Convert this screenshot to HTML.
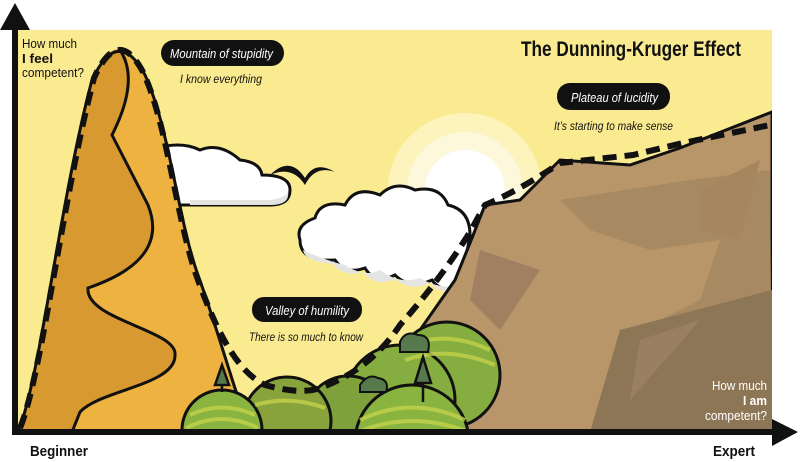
<!DOCTYPE html>
<html><head><meta charset="utf-8"><style>html,body{margin:0;padding:0;background:#fff;overflow:hidden}svg{display:block}</style></head>
<body>
<svg width="800" height="462" viewBox="0 0 800 462" xmlns="http://www.w3.org/2000/svg" font-family="'Liberation Sans Narrow','Liberation Sans',sans-serif">
<defs><clipPath id="c"><rect x="15" y="30" width="757" height="402"/></clipPath></defs>
<rect x="15" y="30" width="757" height="402" fill="#fbeb90"/>
<g clip-path="url(#c)">
<!-- sun -->
<circle cx="465" cy="190" r="77" fill="#fcf3bd"/>
<circle cx="465" cy="190" r="58" fill="#fdf8dc"/>
<circle cx="465" cy="190" r="40" fill="#fff"/>
<!-- bird -->
<path d="M270,175 Q290,155 305,178 Q315,160 335,172 Q315,165 305,185 Q292,165 270,175Z" fill="#111"/>
<!-- cloud1 -->
<path d="M150,150 Q180,140 200,150 Q220,142 240,160 Q260,162 262,175 Q290,175 290,190 Q290,205 270,205 L150,205Z" fill="#fff" stroke="#111" stroke-width="3"/>
<path d="M190,200 L270,200 Q285,198 288,192 Q290,205 270,205 L190,205Z" fill="#e4e5e3"/>
<!-- cloud2 -->
<path d="M300,240 Q295,225 315,218 Q320,200 345,205 Q355,185 380,195 Q395,180 415,190 Q440,185 448,205 Q470,210 470,235 L460,290 Q440,292 432,280 Q410,290 395,275 Q375,285 365,268 Q345,275 335,260 Q300,262 300,240Z" fill="#fff" stroke="#111" stroke-width="3"/>
<path d="M303,250 Q330,262 345,265 Q365,278 380,270 Q400,285 420,278 Q440,290 460,285 L458,292 Q440,294 430,283 Q410,292 395,279 Q375,288 363,272 Q345,278 333,264 Q305,262 303,250Z" fill="#e4e5e3"/>
<!-- brown mountain -->
<path d="M372,432 L420,330 L455,280 L472,238 L485,205 L520,200 L560,160 L630,165 L680,148 L772,112 L772,432Z" fill="#b8966a" stroke="#111" stroke-width="3"/>
<path d="M560,200 L690,180 L770,170 L772,432 L600,432 L640,330 L700,300 L720,240 L650,250 L590,230Z" fill="#a88a62"/>
<path d="M620,330 L772,290 L772,432 L590,432Z" fill="#8d7656"/>
<path d="M480,250 L540,270 L500,330 L470,300Z" fill="#a08060"/>
<path d="M700,190 L760,160 L740,240 L700,230Z" fill="#a5865f"/>
<path d="M640,340 L700,320 L630,400Z" fill="#9a8060"/>
<!-- orange mountain -->
<path d="M18,432 C40,380 60,200 92,80 Q118,25 145,75 C170,130 178,220 198,275 C218,330 234,390 250,432Z" fill="#edb240"/>
<path d="M18,432 C40,380 60,200 92,80 Q108,45 120,50 Q140,80 112,135 Q130,170 148,205 Q170,260 88,288 C85,320 178,330 175,355 C176,385 100,390 80,412 L72,432Z" fill="#d89a30"/>
<path d="M120,50 Q140,80 112,135 Q130,170 148,205 Q170,260 88,288 C85,320 178,330 175,355 C176,385 100,390 80,412 L72,432" fill="none" stroke="#111" stroke-width="3"/>
<path d="M18,432 C40,380 60,200 92,80 Q118,25 145,75 C170,130 178,220 198,275 C218,330 234,390 250,432" fill="none" stroke="#111" stroke-width="3"/>
<!-- trees -->
<g stroke="#111" stroke-width="3">
<circle cx="447" cy="375" r="53" fill="#86ad3f"/>
<circle cx="400" cy="400" r="55" fill="#86ad3f"/>
<circle cx="348" cy="420" r="44" fill="#7fa13b"/>
<circle cx="287" cy="421" r="44" fill="#89a33c"/>
<circle cx="222" cy="430" r="40" fill="#8ab440"/>
<circle cx="412" cy="442" r="57" fill="#8ab440"/>
</g>
<g fill="none" stroke="#c3d24a" stroke-width="4" opacity=".8">
<path d="M190,415 Q222,400 255,415"/><path d="M186,428 Q222,410 258,428"/>
<path d="M360,420 Q412,395 465,420"/><path d="M358,432 Q412,410 468,432"/>
<path d="M410,345 Q447,330 490,350"/><path d="M405,360 Q447,345 495,365"/>
<path d="M255,405 Q290,395 325,408"/>
</g>
<path d="M222,365 L215,385 L229,385Z M222,385 V392" fill="#567a4c" stroke="#111" stroke-width="2.5"/>
<path d="M423,357 L415,383 L431,383Z M423,383 V402" fill="#567a4c" stroke="#111" stroke-width="2.5"/>
<path d="M400,342 Q405,330 418,335 Q432,335 428,352 L400,352Z" fill="#567a4c" stroke="#111" stroke-width="2"/>
<path d="M360,385 Q368,373 378,378 Q390,380 386,392 L360,392Z" fill="#567a4c" stroke="#111" stroke-width="2"/>
<!-- dashed curve -->
<path d="M20,428 C42,375 62,200 94,78 Q118,25 143,72 C168,125 176,220 198,280 C218,335 238,372 265,385 Q300,395 320,388 Q370,370 400,325 Q440,280 470,232 L485,205 Q520,190 560,163 L633,155 L683,143 L775,124" fill="none" stroke="#111" stroke-width="6" stroke-dasharray="14 8"/>
</g>
<!-- axes -->
<rect x="12" y="28" width="6" height="407" fill="#111"/>
<path d="M15,3 L30,30 L0,30Z" fill="#111"/>
<rect x="12" y="429" width="765" height="6" fill="#111"/>
<path d="M798,432 L772,419 L772,446Z" fill="#111"/>
<!-- texts -->
<text x="22" y="48" font-size="13" fill="#111" textLength="55" lengthAdjust="spacingAndGlyphs">How much</text>
<text x="22" y="63" font-size="13" font-weight="bold" fill="#111" textLength="31" lengthAdjust="spacingAndGlyphs">I feel</text>
<text x="22" y="77" font-size="13" fill="#111" textLength="62" lengthAdjust="spacingAndGlyphs">competent?</text>
<text x="767" y="390" font-size="13" fill="#fff" text-anchor="end" textLength="55" lengthAdjust="spacingAndGlyphs">How much</text>
<text x="767" y="405" font-size="13" font-weight="bold" fill="#fff" text-anchor="end" textLength="24" lengthAdjust="spacingAndGlyphs">I am</text>
<text x="767" y="420" font-size="13" fill="#fff" text-anchor="end" textLength="62" lengthAdjust="spacingAndGlyphs">competent?</text>
<text x="30" y="456" font-size="15" font-weight="bold" fill="#111" textLength="58" lengthAdjust="spacingAndGlyphs">Beginner</text>
<text x="713" y="456" font-size="15" font-weight="bold" fill="#111" textLength="42" lengthAdjust="spacingAndGlyphs">Expert</text>
<text x="521" y="56" font-size="21" font-weight="bold" fill="#111" textLength="220" lengthAdjust="spacingAndGlyphs">The Dunning-Kruger Effect</text>
<rect x="161" y="40" width="123" height="26" rx="13" fill="#111"/>
<text x="170" y="58" font-size="13" font-style="italic" fill="#fff" textLength="103" lengthAdjust="spacingAndGlyphs">Mountain of stupidity</text>
<text x="180" y="83" font-size="12" font-style="italic" fill="#111" textLength="82" lengthAdjust="spacingAndGlyphs">I know everything</text>
<rect x="557" y="83" width="113" height="27" rx="13" fill="#111"/>
<text x="571" y="102" font-size="13" font-style="italic" fill="#fff" textLength="87" lengthAdjust="spacingAndGlyphs">Plateau of lucidity</text>
<text x="554" y="130" font-size="12" font-style="italic" fill="#111" textLength="119" lengthAdjust="spacingAndGlyphs">It’s starting to make sense</text>
<rect x="252" y="297" width="110" height="25" rx="12" fill="#111"/>
<text x="265" y="315" font-size="13" font-style="italic" fill="#fff" textLength="84" lengthAdjust="spacingAndGlyphs">Valley of humility</text>
<text x="249" y="341" font-size="12" font-style="italic" fill="#111" textLength="114" lengthAdjust="spacingAndGlyphs">There is so much to know</text>
</svg>
</body></html>
